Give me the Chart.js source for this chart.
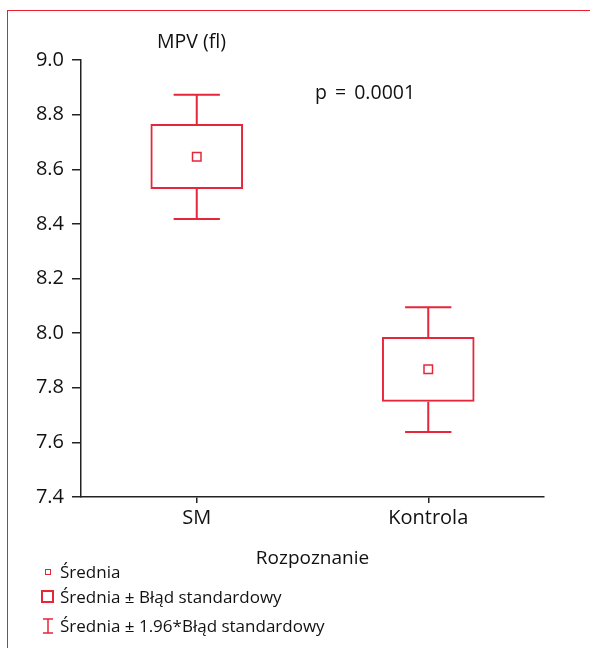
<!DOCTYPE html>
<html>
<head>
<meta charset="utf-8">
<script src="https://cdn.jsdelivr.net/npm/chart.js@4.4.1/dist/chart.umd.min.js"></script>
<style>
  body { margin: 0; background: #fff; }
  #wrap { position: relative; width: 590px; height: 648px; overflow: hidden; font-family: "Open Sans", sans-serif; color: #111; }
  #frame { position: absolute; left: 7px; top: 10px; width: 600px; height: 700px; border-left: 1.5px solid #e8202e; border-top: 1.5px solid #e8202e; }
  canvas { position: absolute; left: 0; top: 0; }
  .txt { position: absolute; font-size: 19.5px; white-space: nowrap; line-height: 22px; }
  .leg { position: absolute; left: 40px; font-size: 17px; line-height: 20px; white-space: nowrap; }
  .leg span.m { display: inline-block; position: absolute; }
</style>
</head>
<body>
<div id="wrap">
  <div id="frame"></div>
  <canvas id="myChart" width="590" height="648"></canvas>
  <div class="txt" style="left:157px; top:30px;">MPV (fl)</div>
  <div class="txt" style="left:315px; top:81px; word-spacing:3px;">p = 0.0001</div>
  <div class="leg" style="top:562px;">
    <span class="m" style="left:5px; top:7px; width:4px; height:4px; border:1px solid #e6263a;"></span>
    <span style="margin-left:20px;">Średnia</span>
  </div>
  <div class="leg" style="top:587px;">
    <span class="m" style="left:1px; top:3px; width:9px; height:9px; border:2px solid #e6263a;"></span>
    <span style="margin-left:20px;">Średnia ± Błąd standardowy</span>
  </div>
  <div class="leg" style="top:616px;">
    <svg class="m" style="position:absolute; left:2px; top:2px;" width="12" height="16">
      <path d="M1 1 H11 M6 1 V15 M1 15 H11" stroke="#e6263a" stroke-width="1.5" fill="none"/>
    </svg>
    <span style="margin-left:20px;">Średnia ± 1.96*Błąd standardowy</span>
  </div>
</div>

<script>
const RED = '#e6263a';

const categories = ['SM', 'Kontrola'];
const means   = [8.646, 7.868];
const seLow   = [8.528, 7.749];
const seHigh  = [8.766, 7.986];
const ciLow   = [8.418, 7.638];
const ciHigh  = [8.873, 8.095];
const yTicks  = [7.4, 7.6, 7.8, 8.0, 8.2, 8.4, 8.6, 8.8, 9.0];

// whiskers (mean +- 1.96*SE) drawn through the chart scales
const whiskerPlugin = {
    id: 'whiskers',
    afterDatasetsDraw(chart)
    {
        const ctx = chart.ctx;
        const xs = chart.scales.x;
        const ys = chart.scales.y;
        const bars = chart.getDatasetMeta(0).data;
        ctx.save();
        ctx.strokeStyle = RED;
        ctx.lineWidth = 2;
        categories.forEach((c, i) => {
            const cx = xs.getPixelForValue(i);
            const half = bars[i].width / 4;
            const yTop = ys.getPixelForValue(ciHigh[i]);
            const yBot = ys.getPixelForValue(ciLow[i]);
            ctx.beginPath();
            ctx.moveTo(cx, ys.getPixelForValue(seHigh[i]));
            ctx.lineTo(cx, yTop);
            ctx.moveTo(cx - half, yTop);
            ctx.lineTo(cx + half, yTop);
            ctx.moveTo(cx, ys.getPixelForValue(seLow[i]));
            ctx.lineTo(cx, yBot);
            ctx.moveTo(cx - half, yBot);
            ctx.lineTo(cx + half, yBot);
            ctx.stroke();
        });
        ctx.restore();
    }
};

const tickFont = { family: '"Open Sans", sans-serif', size: 20 };
const titleFont = { family: '"Open Sans", sans-serif', size: 19 };

new Chart(document.getElementById('myChart'), {
    type: 'bar',
    data: {
        labels: categories,
        datasets: [{
            label: 'Średnia ± Błąd standardowy',
            data: categories.map((c, i) => [seLow[i], seHigh[i]]),
            backgroundColor: 'rgba(0,0,0,0)',
            borderColor: RED,
            borderWidth: 2,
            borderSkipped: false,
            categoryPercentage: 1,
            barPercentage: 0.4
        }, {
            type: 'line',
            label: 'Średnia',
            data: means,
            showLine: false,
            pointStyle: 'rect',
            pointRadius: 6,
            pointBorderWidth: 1.5,
            pointBorderColor: RED,
            pointBackgroundColor: 'rgba(0,0,0,0)'
        }]
    },
    options: {
        responsive: false,
        animation: false,
        layout: { padding: { left: 0, top: 60, right: 46, bottom: 74 } },
        plugins: {
            legend: { display: false },
            tooltip: { enabled: false }
        },
        scales: {
            x: {
                offset: true,
                grid: { offset: false, drawOnChartArea: false, color: '#222', tickLength: 6, lineWidth: 1.5 },
                border: { color: '#222', width: 1.5 },
                ticks: { color: '#111', font: tickFont, padding: 3 },
                title: { display: true, text: 'Rozpoznanie', color: '#111', font: titleFont, padding: 4 },
                afterFit: function(scale) { scale.height = 77; }
            },
            y: {
                min: 7.4,
                max: 9.0,
                grid: { drawOnChartArea: false, color: '#222', tickLength: 9, lineWidth: 1.5 },
                border: { color: '#222', width: 1.5 },
                afterBuildTicks: function(scale) { scale.ticks = yTicks.map(v => ({ value: v })); },
                ticks: { color: '#111', font: tickFont, padding: 8, callback: v => Number(v).toFixed(1) },
                afterFit: function(scale) { scale.width = 81; }
            }
        }
    },
    plugins: [whiskerPlugin]
});
</script>
</body>
</html>
